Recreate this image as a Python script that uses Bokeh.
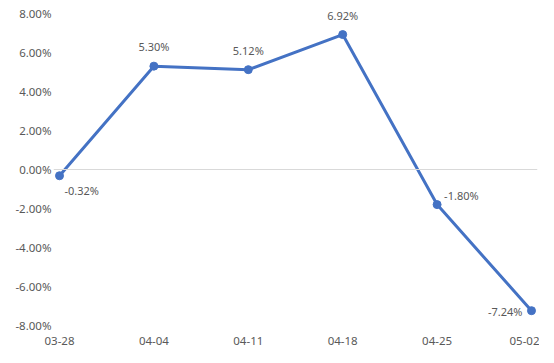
from bokeh.plotting import figure
from bokeh.models import Range1d, FixedTicker, Span, ColumnDataSource, CustomJSTickFormatter
from bokeh.core.properties import value
from bokeh.embed import file_html
from bokeh.resources import INLINE

categories = ["03-28", "04-04", "04-11", "04-18", "04-25", "05-02"]
values = [-0.32, 5.30, 5.12, 6.92, -1.80, -7.24]
label_pos = ["below_right", "above", "above", "above", "right", "left"]
y_ticks = [-8, -6, -4, -2, 0, 2, 4, 6, 8]

FONT = "Noto Sans"
TXT = "#595959"
LINE = "#4472C4"

xs = list(range(len(categories)))
p = figure(width=539, height=355, output_backend="svg", toolbar_location=None,
           x_range=Range1d(-0.0636, len(categories) - 1 + 0.0636),
           y_range=Range1d(-8.205, 8.513),
           min_border_left=53, min_border_right=2, min_border_top=3, min_border_bottom=26)
p.outline_line_color = None
p.xgrid.visible = False
p.ygrid.visible = False

p.add_layout(Span(location=0, dimension="width", line_color="#d9d9d9", line_width=1))

src = ColumnDataSource(dict(x=xs, y=values))
p.line("x", "y", source=src, line_color=LINE, line_width=3)
p.scatter("x", "y", source=src, size=8, fill_color=LINE, line_color=LINE)

offsets = {
    "above": (0, 12, "center", "bottom"),
    "below_right": (5, -7, "left", "top"),
    "right": (7, 2, "left", "bottom"),
    "left": (-9, -1, "right", "middle"),
}
for x, v, pos in zip(xs, values, label_pos):
    dx, dy, ta, tb = offsets[pos]
    p.text(x=[x], y=[v], text=["%.2f%%" % v], x_offset=dx, y_offset=-dy,
           text_align=ta, text_baseline=tb, text_font=value(FONT),
           text_font_size="11px", text_color=TXT)

p.yaxis.ticker = FixedTicker(ticks=y_ticks)
p.yaxis.formatter = CustomJSTickFormatter(code="return tick.toFixed(2) + '%';")
p.xaxis.ticker = FixedTicker(ticks=xs)
p.xaxis.major_label_overrides = {i: c for i, c in enumerate(categories)}
for ax in (p.xaxis, p.yaxis):
    ax.axis_line_color = None
    ax.major_tick_line_color = None
    ax.minor_tick_line_color = None
    ax.major_tick_in = 0
    ax.major_tick_out = 0
    ax.minor_tick_in = 0
    ax.minor_tick_out = 0
    ax.major_label_text_font = FONT
    ax.major_label_text_font_size = "11.5px"
    ax.major_label_text_color = TXT
p.yaxis.major_label_standoff = 2
p.xaxis.major_label_standoff = 7

open("out.html", "w").write(file_html(p, INLINE))
